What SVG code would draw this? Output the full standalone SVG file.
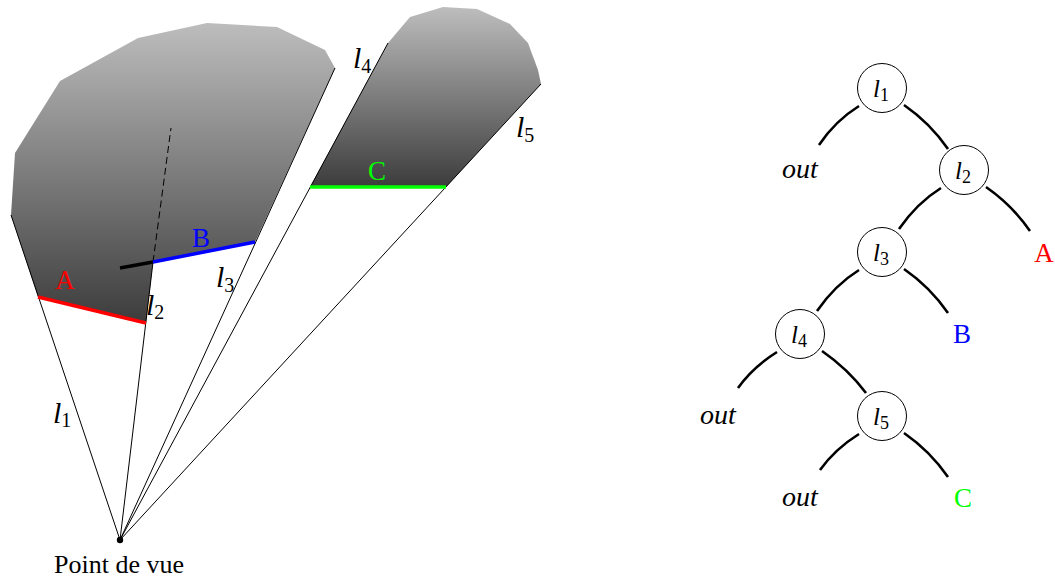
<svg xmlns="http://www.w3.org/2000/svg" width="1055" height="579" viewBox="0 0 1055 579">
<defs>
<linearGradient id="g1" gradientUnits="userSpaceOnUse" x1="0" y1="23" x2="0" y2="323">
<stop offset="0" stop-color="#bdbdbd"/><stop offset="1" stop-color="#3c3c3c"/>
</linearGradient>
<linearGradient id="g2" gradientUnits="userSpaceOnUse" x1="0" y1="7" x2="0" y2="187">
<stop offset="0" stop-color="#bdbdbd"/><stop offset="1" stop-color="#3c3c3c"/>
</linearGradient>
</defs>
<style>
text{font-family:"Liberation Serif","Times New Roman",serif;fill:#000}
.ml{font-size:30px;font-style:italic}
.ml .sub{font-size:20px;font-style:normal}
.tl{font-size:25px;font-style:italic}
.tl .sub{font-size:18px;font-style:normal}
.lbl{font-size:27px;text-anchor:middle}
.out{font-size:28px;font-style:italic;text-anchor:middle}
.ray{stroke:#000;stroke-width:1;fill:none}
.seg{stroke-width:3.5;fill:none}
.edge{stroke:#000;stroke-width:2.6;fill:none}
.node circle{fill:#fff;stroke:#000;stroke-width:1}
</style>
<g id="scene">
<polygon points="11,215 15,153 60,81 138,38 207,23 277,27 325,50 335,68 255,242 153,262 146,323 38,297" fill="url(#g1)"/>
<polygon points="310,187 388,43 410,17 443,7 477,9 510,24 528,43 538,70 541,84 446,187" fill="url(#g2)"/>
<line class="ray" x1="120" y1="540" x2="11" y2="215"/>
<line class="ray" x1="120" y1="540" x2="153" y2="262"/>
<line class="ray" x1="153" y1="262" x2="171" y2="128" stroke-dasharray="7,4"/>
<line class="ray" x1="120" y1="540" x2="335" y2="68"/>
<line class="ray" x1="120" y1="540" x2="388" y2="43"/>
<line class="ray" x1="120" y1="540" x2="541" y2="84"/>
<line class="seg" stroke="#f00" x1="38" y1="297" x2="146" y2="323"/>
<line class="seg" stroke="#000" x1="120" y1="268" x2="153" y2="262"/>
<line class="seg" stroke="#00f" x1="153" y1="262" x2="255" y2="242"/>
<line class="seg" stroke="#0f0" x1="310" y1="187" x2="446" y2="187"/>
<circle cx="120" cy="540" r="3.2" fill="#000"/>
<text class="lbl" x="65" y="289" style="fill:#f00">A</text>
<text class="lbl" x="201" y="247" style="fill:#00f">B</text>
<text class="lbl" x="377" y="180" style="fill:#0f0">C</text>
<text class="ml" x="53" y="423">l<tspan class="sub" dy="4">1</tspan></text>
<text class="ml" x="146" y="315">l<tspan class="sub" dy="4">2</tspan></text>
<text class="ml" x="216" y="287">l<tspan class="sub" dy="5">3</tspan></text>
<text class="ml" x="353" y="68">l<tspan class="sub" dy="5">4</tspan></text>
<text class="ml" x="516" y="137">l<tspan class="sub" dy="5">5</tspan></text>
<text x="119" y="573" style="font-size:26px;text-anchor:middle">Point de vue</text>
</g>
<g id="connectors">
<path class="edge" d="M859,106 Q835,121 819,145"/>
<path class="edge" d="M904,105 Q930,123 948,149"/>
<path class="edge" d="M941,188 Q917,203 899,229"/>
<path class="edge" d="M986,187 Q1012,205 1030,231"/>
<path class="edge" d="M859,270 Q835,285 817,311"/>
<path class="edge" d="M904,269 Q930,287 948,313"/>
<path class="edge" d="M777,352 Q753,367 738,388"/>
<path class="edge" d="M822,351 Q848,369 866,393"/>
<path class="edge" d="M859,434 Q835,449 820,470"/>
<path class="edge" d="M904,433 Q930,451 948,477"/>
</g>
<g id="n1" class="node"><circle cx="882" cy="88" r="24.5"/><text class="tl" x="881" y="97" text-anchor="middle">l<tspan class="sub" dy="4">1</tspan></text></g>
<g id="n2" class="node"><circle cx="964" cy="170" r="24.5"/><text class="tl" x="963" y="179" text-anchor="middle">l<tspan class="sub" dy="4">2</tspan></text></g>
<g id="n3" class="node"><circle cx="882" cy="252" r="24.5"/><text class="tl" x="881" y="261" text-anchor="middle">l<tspan class="sub" dy="4">3</tspan></text></g>
<g id="n4" class="node"><circle cx="800" cy="334" r="24.5"/><text class="tl" x="799" y="343" text-anchor="middle">l<tspan class="sub" dy="4">4</tspan></text></g>
<g id="n5" class="node"><circle cx="882" cy="416" r="24.5"/><text class="tl" x="881" y="425" text-anchor="middle">l<tspan class="sub" dy="4">5</tspan></text></g>
<g id="leaf-out1"><text class="out" x="800" y="178">out</text></g>
<g id="leaf-A"><text class="lbl" x="1044" y="262" style="fill:#f00">A</text></g>
<g id="leaf-B"><text class="lbl" x="962" y="343" style="fill:#00f">B</text></g>
<g id="leaf-out2"><text class="out" x="718" y="424">out</text></g>
<g id="leaf-out3"><text class="out" x="800" y="506">out</text></g>
<g id="leaf-C"><text class="lbl" x="963" y="507" style="fill:#0f0">C</text></g>
</svg>
